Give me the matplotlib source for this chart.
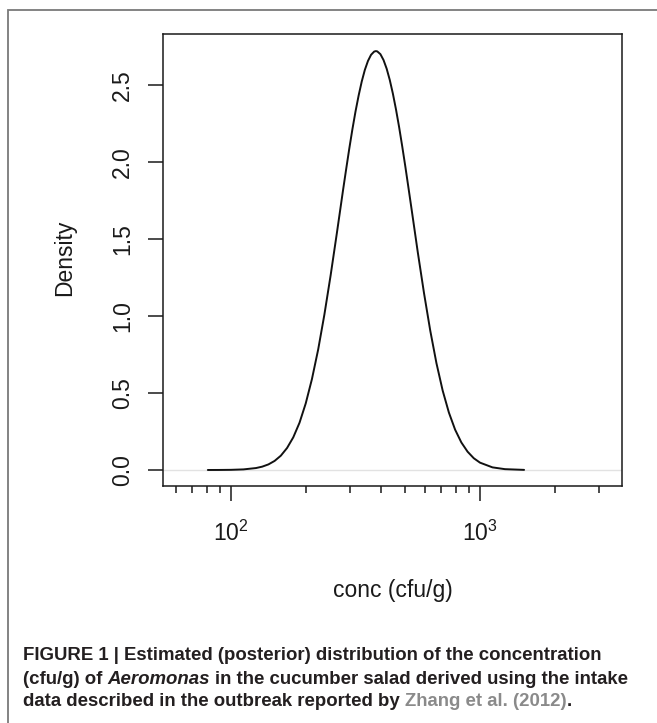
import matplotlib
matplotlib.use("Agg")
import matplotlib.pyplot as plt
from matplotlib.ticker import LogLocator, NullFormatter, FixedLocator, FixedFormatter
from matplotlib.patches import Rectangle
from matplotlib.transforms import IdentityTransform

# Posterior density of the concentration (cfu/g)
conc = [80.7, 89.1, 100.0, 112.2, 125.9, 133.4, 141.3, 149.6, 158.5, 167.9,
        177.8, 188.4, 199.5, 211.3, 223.9, 237.1, 251.2, 266.1, 281.8, 290.1,
        298.5, 307.2, 316.2, 325.5, 335.0, 344.7, 354.8, 365.1, 375.8, 381.9,
        386.7, 398.1, 409.7, 421.7, 434.0, 446.7, 459.8, 473.2, 487.0, 501.2,
        515.8, 530.9, 562.3, 595.7, 631.0, 668.3, 707.9, 749.9, 794.3, 841.4,
        891.3, 944.1, 1000.0, 1122.0, 1259.0, 1503.0]
density = [0.0001, 0.0003, 0.0011, 0.0039, 0.0126, 0.0217, 0.0363, 0.0589, 0.093, 0.143,
           0.212, 0.307, 0.432, 0.590, 0.783, 1.009, 1.264, 1.538, 1.818, 1.955,
           2.087, 2.212, 2.328, 2.432, 2.523, 2.598, 2.656, 2.696, 2.717, 2.720,
           2.718, 2.700, 2.662, 2.606, 2.533, 2.444, 2.341, 2.227, 2.102, 1.971,
           1.834, 1.695, 1.415, 1.149, 0.906, 0.694, 0.516, 0.373, 0.262, 0.179,
           0.119, 0.0763, 0.0477, 0.0171, 0.0055, 0.0008]

y_ticks = [0.0, 0.5, 1.0, 1.5, 2.0, 2.5]
y_tick_labels = ["0.0", "0.5", "1.0", "1.5", "2.0", "2.5"]
x_label = "conc (cfu/g)"
y_label = "Density"

caption_lines = [
    [("FIGURE 1 | Estimated (posterior) distribution of the concentration", "b")],
    [("(cfu/g) of", "b"), ("Aeromonas", "bi"), ("in the cucumber salad derived using the intake", "b")],
    [("data described in the outbreak reported by", "b"), ("Zhang et al. (2012)", "link"), (".", "b_nospace")],
]

W, H = 657, 723
plt.rcParams["font.family"] = ["Liberation Sans", "DejaVu Sans"]
plt.rcParams["mathtext.fontset"] = "custom"
plt.rcParams["mathtext.rm"] = "Liberation Sans"
plt.rcParams["mathtext.it"] = "Liberation Sans:italic"
plt.rcParams["mathtext.bf"] = "Liberation Sans:bold"

fig = plt.figure(figsize=(W / 100, H / 100), dpi=100)
fig.patch.set_facecolor("white")

# plot region in pixels
left, right, top, bottom = 163, 622, 34, 486
ax = fig.add_axes([left / W, 1 - bottom / H, (right - left) / W, (bottom - top) / H])

ink = "#1a1a1a"
ax.axhline(0, color="#e2e2e2", lw=1.0, zorder=1)
ax.plot(conc, density, color="#111111", lw=1.4, zorder=2,
        solid_capstyle="round", solid_joinstyle="round")

ax.set_xscale("log")
ax.set_xlim(53.3, 3718)
ax.set_ylim(-0.1039, 2.831)

ax.xaxis.set_major_locator(LogLocator(base=10, numticks=10))
ax.xaxis.set_minor_locator(LogLocator(base=10, subs=[2, 3, 4, 5, 6, 7, 8, 9], numticks=20))
ax.xaxis.set_minor_formatter(NullFormatter())
ax.yaxis.set_major_locator(FixedLocator(y_ticks))
ax.yaxis.set_major_formatter(FixedFormatter(y_tick_labels))

for s in ax.spines.values():
    s.set_linewidth(1.1)
    s.set_color(ink)

tick_fs = 16.5
ax.tick_params(axis="x", which="major", direction="out", length=10.8, width=1.1,
               color=ink, labelcolor=ink, labelsize=tick_fs, pad=14)
ax.tick_params(axis="x", which="minor", direction="out", length=5.2, width=1.1, color=ink)
ax.tick_params(axis="y", which="major", direction="out", length=10.8, width=1.1,
               color=ink, labelcolor=ink, labelsize=tick_fs, pad=13.5)
for lab in ax.get_yticklabels():
    lab.set_rotation(90)
    lab.set_rotation_mode("anchor")
    lab.set_ha("center")
    lab.set_va("baseline")

# axis titles
fig.text((left + right) / 2 / W, 1 - 591 / H, x_label, ha="center", va="center",
         fontsize=tick_fs, color=ink)
fig.text(65 / W, 1 - 258 / H, y_label, ha="center", va="center", rotation=90,
         fontsize=tick_fs, color=ink)

# outer frame of the figure panel
fig.patches.append(Rectangle((8, -50), 1000, H - 10 + 50, transform=IdentityTransform(),
                             fill=False, edgecolor="#7a7a7a", lw=1.3, figure=fig))

# caption, drawn run by run
renderer = fig.canvas.get_renderer()
cap_color = "#231f20"
link_color = "#8a8a8a"


def run_props(style):
    props = dict(fontweight="bold", color=cap_color, fontstyle="normal")
    if style == "bi":
        props["fontstyle"] = "italic"
    if style == "link":
        props["color"] = link_color
    return props


def text_width(s, size, **kw):
    t = fig.text(0, 0, s, fontsize=size, transform=IdentityTransform(), **kw)
    w = t.get_window_extent(renderer).width
    t.remove()
    return w


cap_left = 23
target_first = 603 - cap_left
w10 = text_width(caption_lines[0][0][0], 10, fontweight="bold")
cap_fs = 10 * target_first / w10
space_w = text_width("a a", cap_fs, fontweight="bold") - text_width("aa", cap_fs, fontweight="bold")

line_y = [656, 679, 702]
for runs, yc in zip(caption_lines, line_y):
    x = cap_left
    for i, (txt, style) in enumerate(runs):
        if i > 0 and style != "b_nospace":
            x += space_w
        t = fig.text(x, H - yc, txt, fontsize=cap_fs, transform=IdentityTransform(),
                     ha="left", va="center", **run_props(style))
        x += t.get_window_extent(renderer).width

fig.savefig("out.png", dpi=100)
